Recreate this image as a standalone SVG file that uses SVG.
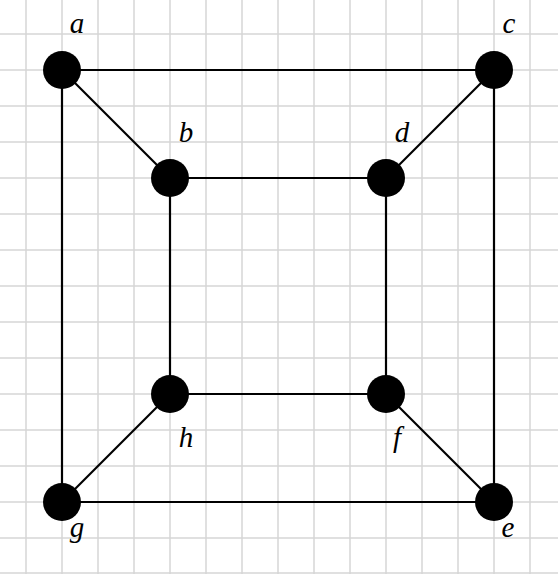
<svg xmlns="http://www.w3.org/2000/svg" width="558" height="574" viewBox="0 0 558 574">
<style>
.grid line{stroke:#d6d6d6;stroke-width:1.5}
.edge{stroke:#000;stroke-width:2.2}
.node circle{fill:#000}
.node text{font-family:'Liberation Serif','Times New Roman',serif;font-style:italic;font-size:29px;fill:#000;text-anchor:middle}
</style>
<rect width="558" height="574" fill="#fff"/>
<g class="grid">
<line x1="26" y1="0" x2="26" y2="574"/><line x1="62" y1="0" x2="62" y2="574"/><line x1="98" y1="0" x2="98" y2="574"/><line x1="134" y1="0" x2="134" y2="574"/><line x1="170" y1="0" x2="170" y2="574"/><line x1="206" y1="0" x2="206" y2="574"/><line x1="242" y1="0" x2="242" y2="574"/><line x1="278" y1="0" x2="278" y2="574"/><line x1="314" y1="0" x2="314" y2="574"/><line x1="350" y1="0" x2="350" y2="574"/><line x1="386" y1="0" x2="386" y2="574"/><line x1="422" y1="0" x2="422" y2="574"/><line x1="458" y1="0" x2="458" y2="574"/><line x1="494" y1="0" x2="494" y2="574"/><line x1="530" y1="0" x2="530" y2="574"/>
<line x1="0" y1="34" x2="558" y2="34"/><line x1="0" y1="70" x2="558" y2="70"/><line x1="0" y1="106" x2="558" y2="106"/><line x1="0" y1="142" x2="558" y2="142"/><line x1="0" y1="178" x2="558" y2="178"/><line x1="0" y1="214" x2="558" y2="214"/><line x1="0" y1="250" x2="558" y2="250"/><line x1="0" y1="286" x2="558" y2="286"/><line x1="0" y1="322" x2="558" y2="322"/><line x1="0" y1="358" x2="558" y2="358"/><line x1="0" y1="394" x2="558" y2="394"/><line x1="0" y1="430" x2="558" y2="430"/><line x1="0" y1="466" x2="558" y2="466"/><line x1="0" y1="502" x2="558" y2="502"/><line x1="0" y1="538" x2="558" y2="538"/><line x1="0" y1="573" x2="558" y2="573"/>
</g>
<g id="connectors" class="edge">
<line x1="62" y1="70" x2="494" y2="70"/>
<line x1="62" y1="70" x2="62" y2="502"/>
<line x1="62" y1="70" x2="170" y2="178"/>
<line x1="494" y1="70" x2="494" y2="502"/>
<line x1="494" y1="70" x2="386" y2="178"/>
<line x1="62" y1="502" x2="494" y2="502"/>
<line x1="62" y1="502" x2="170" y2="394"/>
<line x1="494" y1="502" x2="386" y2="394"/>
<line x1="170" y1="178" x2="386" y2="178"/>
<line x1="170" y1="178" x2="170" y2="394"/>
<line x1="386" y1="178" x2="386" y2="394"/>
<line x1="170" y1="394" x2="386" y2="394"/>
</g>
<g id="a" class="node"><circle cx="62" cy="70" r="19"/><text x="77" y="33">a</text></g>
<g id="b" class="node"><circle cx="170" cy="178" r="19"/><text x="186" y="142">b</text></g>
<g id="c" class="node"><circle cx="494" cy="70" r="19"/><text x="509" y="33">c</text></g>
<g id="d" class="node"><circle cx="386" cy="178" r="19"/><text x="402" y="142">d</text></g>
<g id="h" class="node"><circle cx="170" cy="394" r="19"/><text x="186" y="447">h</text></g>
<g id="f" class="node"><circle cx="386" cy="394" r="19"/><text x="397" y="447">f</text></g>
<g id="g" class="node"><circle cx="62" cy="502" r="19"/><text x="77" y="537">g</text></g>
<g id="e" class="node"><circle cx="494" cy="502" r="19"/><text x="508" y="537">e</text></g>
</svg>
